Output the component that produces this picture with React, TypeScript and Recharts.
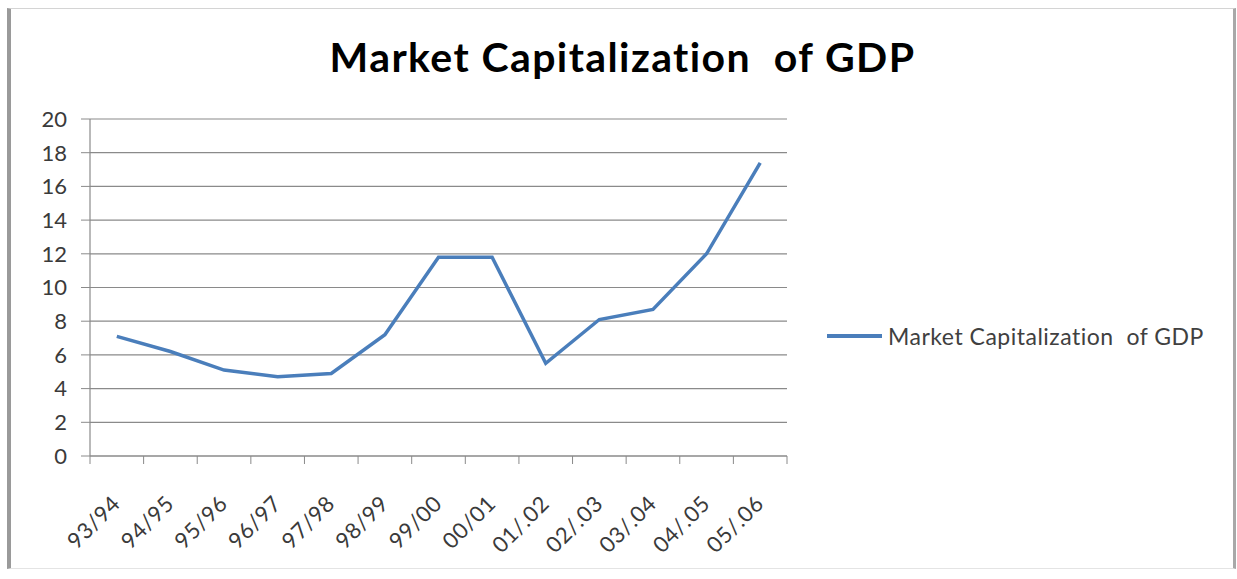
import { LineChart, Line, XAxis, YAxis, CartesianGrid, Legend } from 'recharts'

const periods = ['93/94', '94/95', '95/96', '96/97', '97/98', '98/99', '99/00', '00/01', '01/.02', '02/.03', '03/.04', '04/.05', '05/.06']
const marketCap = [7.1, 6.2, 5.1, 4.7, 4.9, 7.2, 11.8, 11.8, 5.5, 8.1, 8.7, 12.0, 17.4]
const yTicks = [0, 2, 4, 6, 8, 10, 12, 14, 16, 18, 20]

const SERIES = 'Market Capitalization  of GDP'
const BLUE = '#4a7ebb'
const AXIS = '#8a8a8a'
const FONT = 'Lato, sans-serif'

const data = periods.map((p, i) => ({ x: i + 0.5, period: p, value: marketCap[i] }))
// boundary ticks (integers) get a tick mark, centre ticks (x.5) get the label
const xTicks = Array.from({ length: periods.length * 2 + 1 }, (_, i) => i / 2)

const XTick = ({ x, y, payload }: any) => {
  const v = payload.value
  if (Number.isInteger(v)) {
    return <line x1={x} y1={y} x2={x} y2={y + 8} stroke={AXIS} strokeWidth={1} />
  }
  const ax = x + 5
  const ay = y + 49
  return (
    <text x={ax} y={ay} transform={`rotate(-45 ${ax} ${ay})`} textAnchor="end"
      fontFamily={FONT} fontSize={22} letterSpacing={0.6} fill="#3a3a3a">
      {periods[Math.floor(v)]}
    </text>
  )
}

const LegendBox = () => (
  <div style={{ display: 'flex', alignItems: 'center', fontFamily: FONT, fontSize: 23, letterSpacing: 0.5, color: '#404040', whiteSpace: 'pre' }}>
    <div style={{ width: 55, height: 4, background: BLUE, marginRight: 6 }} />
    <span>{SERIES}</span>
  </div>
)

export default function App() {
  return (
    <div style={{ position: 'absolute', left: 0, top: 0, width: 1237, height: 579, background: 'white', overflow: 'hidden' }}>
      <div style={{
        position: 'absolute', left: 7, top: 8, width: 1222, height: 559,
        borderLeft: '4px solid #9a9a9a', borderTop: '1px solid #d4d4d4',
        borderRight: '3px solid #a8a8a8', borderBottom: '1px solid #e4e4e4',
      }} />
      <div style={{
        position: 'absolute', left: 4, top: 32, width: 1237, textAlign: 'center',
        fontFamily: FONT, fontWeight: 700, fontSize: 41, letterSpacing: 1.4, color: '#000', whiteSpace: 'pre',
      }}>
        {SERIES}
      </div>
      <div style={{ position: 'absolute', left: 0, top: 0 }}>
        <LineChart width={1237} height={579} data={data} margin={{ top: 119, right: 450, bottom: 0, left: 10 }}>
          <CartesianGrid vertical={false} stroke={AXIS} strokeWidth={1.2} />
          <XAxis
            dataKey="x" type="number" domain={[0, periods.length]} ticks={xTicks} interval={0}
            tickLine={false} tickSize={0} tickMargin={0} height={123}
            axisLine={{ stroke: AXIS, strokeWidth: 1.2 }} tick={<XTick />}
          />
          <YAxis
            domain={[0, 20]} ticks={yTicks} interval={0} width={80}
            tickSize={9} tickMargin={14}
            tickLine={{ stroke: AXIS }} axisLine={{ stroke: AXIS, strokeWidth: 1.2 }}
            tick={{ fontFamily: FONT, fontSize: 22, fill: '#3a3a3a' }}
          />
          <Legend
            layout="horizontal" align="center" verticalAlign="middle"
            wrapperStyle={{ left: 827, top: 322, width: 400 }}
            content={<LegendBox />}
          />
          <Line
            type="linear" dataKey="value" name={SERIES}
            stroke={BLUE} strokeWidth={3.5} dot={false} isAnimationActive={false}
          />
        </LineChart>
      </div>
    </div>
  )
}
